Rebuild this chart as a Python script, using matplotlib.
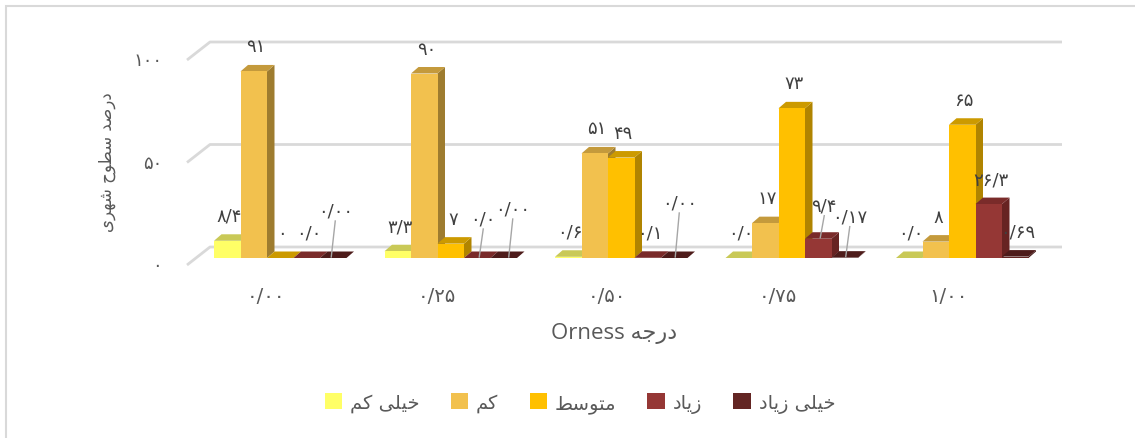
import matplotlib
matplotlib.use("Agg")
import matplotlib.pyplot as plt
from matplotlib.patches import Polygon, Patch, Rectangle

# data
groups = ["0/00", "0/25", "0/50", "0/75", "1/00"]
series = ["خیلی کم", "کم", "متوسط", "زیاد", "خیلی زیاد"]
very_low = [8.4, 3.3, 0.6, 0.0, 0.0]
low = [91, 90, 51, 17, 8]
medium = [0.0, 7, 49, 73, 65]
high = [0.0, 0.0, 0.1, 9.4, 26.3]
very_high = [0.00, 0.00, 0.00, 0.17, 0.69]
labels = [
    ["8/4", "3/3", "0/6", "0/0", "0/0"],
    ["91", "90", "51", "17", "8"],
    ["0", "7", "49", "73", "65"],
    ["0/0", "0/0", "0/1", "9/4", "26/3"],
    ["0/00", "0/00", "0/00", "0/17", "0/69"],
]
y_ticks = [0, 50, 100]
y_title = "درصد سطوح شهری"
x_title = "درجه"

values = [very_low, low, medium, high, very_high]

front_cols = ["#FFFF66", "#F2C14E", "#FFC000", "#953735", "#632523"]
top_cols = ["#C9C957", "#C49A3C", "#CC9A00", "#7A2B2A", "#4E1C1B"]
side_cols = ["#B3B34A", "#9E7C2F", "#B08400", "#672322", "#431817"]
txt_col = "#595959"

# minimal arabic shaping (no reshaper library available)
FORMS = {
    "ا": ("\uFE8D", "\uFE8E", None, None),
    "د": ("\uFEA9", "\uFEAA", None, None),
    "ر": ("\uFEAD", "\uFEAE", None, None),
    "ز": ("\uFEAF", "\uFEB0", None, None),
    "و": ("\uFEED", "\uFEEE", None, None),
    "خ": ("\uFEA5", "\uFEA6", "\uFEA7", "\uFEA8"),
    "ح": ("\uFEA1", "\uFEA2", "\uFEA3", "\uFEA4"),
    "ج": ("\uFE9D", "\uFE9E", "\uFE9F", "\uFEA0"),
    "ل": ("\uFEDD", "\uFEDE", "\uFEDF", "\uFEE0"),
    "م": ("\uFEE1", "\uFEE2", "\uFEE3", "\uFEE4"),
    "ت": ("\uFE95", "\uFE96", "\uFE97", "\uFE98"),
    "س": ("\uFEB1", "\uFEB2", "\uFEB3", "\uFEB4"),
    "ش": ("\uFEB5", "\uFEB6", "\uFEB7", "\uFEB8"),
    "ص": ("\uFEB9", "\uFEBA", "\uFEBB", "\uFEBC"),
    "ط": ("\uFEC1", "\uFEC2", "\uFEC3", "\uFEC4"),
    "ه": ("\uFEE9", "\uFEEA", "\uFEEB", "\uFEEC"),
    "ی": ("\uFEEF", "\uFEF0", "\uFEF3", "\uFEF4"),
    "ک": ("\uFB8E", "\uFB8F", "\uFB90", "\uFB91"),
}


def fa(s):
    out = []
    for k, ch in enumerate(s):
        if ch not in FORMS:
            out.append(ch)
            continue
        prev = s[k - 1] if k > 0 else ""
        nxt = s[k + 1] if k < len(s) - 1 else ""
        jp = prev in FORMS and FORMS[prev][2] is not None
        jn = nxt in FORMS and FORMS[ch][2] is not None
        iso, fin, ini, med = FORMS[ch]
        if jp and jn:
            out.append(med)
        elif jp:
            out.append(fin)
        elif jn:
            out.append(ini)
        else:
            out.append(iso)
    return "".join(out)[::-1]


def fa_num(s):
    return str(s).translate(str.maketrans("0123456789", "۰۱۲۳۴۵۶۷۸۹"))


plt.rcParams["font.family"] = ["DejaVu Sans"]

W, H = 1135, 439
fig = plt.figure(figsize=(W / 100, H / 100), dpi=100)
ax = fig.add_axes([0, 0, 1, 1])
PX = 170.5  # pixels per group
PY = 2.05   # pixels per percent
x_org, y_org = 214, 259
ax.set_xlim(-x_org / PX, (W - x_org) / PX)
ax.set_ylim(-(H - y_org) / PY, y_org / PY)
ax.axis("off")

w = 26.5 / PX
DX = 7.5 / PX
DY = 6.5 / PY

# back wall grid
back = 11 / PY
front = -7 / PY
for t in y_ticks:
    ax.plot([-27 / PX, -4 / PX, (1062 - x_org) / PX], [t + front, t + back, t + back],
            color="#D9D9D9", lw=2, zorder=1, solid_capstyle="butt")
    ax.text(-52 / PX, t + front, fa_num(t), ha="right", va="center", fontsize=13, color=txt_col)

# label tweaks: (group, series) -> (dx px, extra height px)
leaders = {(0, 4): (2, 22), (1, 3): (6, 14), (1, 4): (9, 24), (2, 4): (5, 30),
           (3, 3): (6, 8), (3, 4): (5, 16)}

for i in range(len(groups)):
    for j in range(len(series)):
        v = values[j][i]
        x0 = i + j * w
        x1 = x0 + w
        z = 3 + i + j * 0.1
        ax.add_patch(Polygon([(x1, 0), (x1 + DX, DY), (x1 + DX, v + DY), (x1, v)],
                             closed=True, facecolor=side_cols[j], edgecolor="none", zorder=z))
        ax.add_patch(Polygon([(x0, v), (x1, v), (x1 + DX, v + DY), (x0 + DX, v + DY)],
                             closed=True, facecolor=top_cols[j], edgecolor="none", zorder=z))
        ax.bar(x0, v, width=w, align="edge", color=front_cols[j], zorder=z + 0.01)
        dxp, extra = leaders.get((i, j), (2, 0))
        lx = x0 + w / 2 + dxp / PX
        ly = v + (25 + extra) / PY
        ax.text(lx, ly, fa_num(labels[j][i]), ha="center", va="center", fontsize=13,
                color="#404040", zorder=20)
        if (i, j) in leaders:
            ax.plot([lx, lx - 4 / PX], [ly - 10 / PY, v + 1 / PY], color="#A6A6A6", lw=1, zorder=21)

for i, g in enumerate(groups):
    ax.text(i + 2.5 * w - 14 / PX, -37 / PY, fa_num(g), ha="center", va="center",
            fontsize=14, color=txt_col)

fig.text(107 / W, 1 - 162 / H, fa(y_title), rotation=90, ha="center", va="center",
         fontsize=12, color=txt_col)
fig.text(614 / W, 1 - 334 / H, "Orness " + fa(x_title), ha="center", va="center",
         fontsize=16, color=txt_col, family=["Open Sans", "DejaVu Sans"])

handles = [Patch(facecolor=c, edgecolor="none") for c in front_cols]
fig.legend(handles, [fa(s) for s in series], loc="center", bbox_to_anchor=(580 / W, 1 - 404 / H),
           ncol=5, frameon=False, fontsize=14, handlelength=0.9, handleheight=0.9,
           handletextpad=0.4, columnspacing=1.6, labelcolor=txt_col)

fig.add_artist(Rectangle((6 / W, -10 / H), 1140 / W, 442 / H, transform=fig.transFigure,
                         fill=False, edgecolor="#D9D9D9", lw=1.5))

fig.savefig("out.png", dpi=100)
